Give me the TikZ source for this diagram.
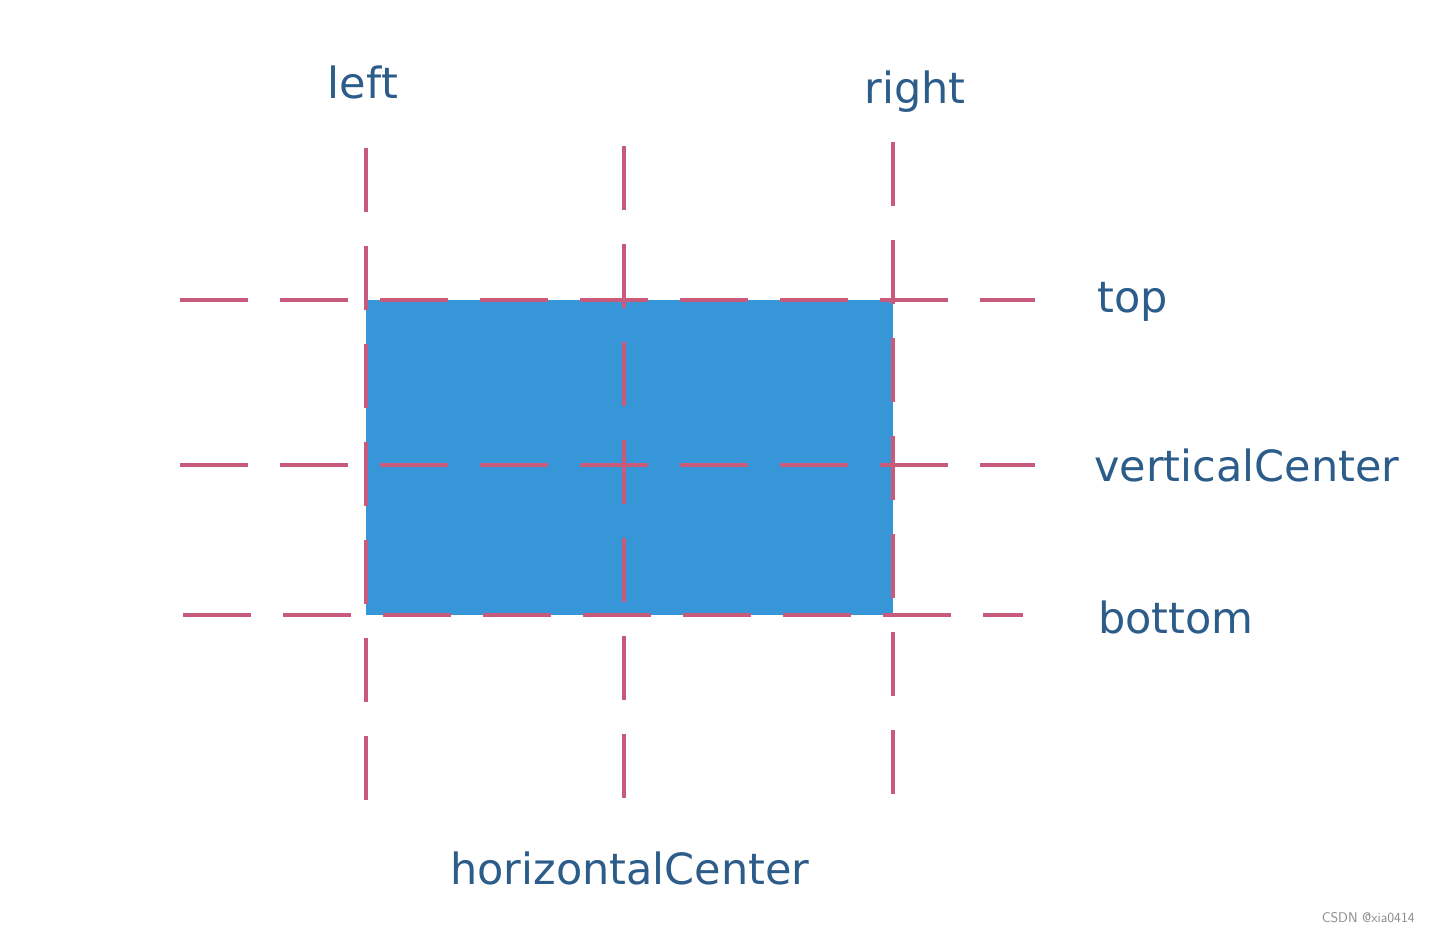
\documentclass[tikz,border=0pt]{standalone}
\usepackage{fontspec}
\setmainfont{DejaVu Sans}[Ligatures=NoCommon]
\definecolor{boxblue}{HTML}{3796D8}
\definecolor{guide}{HTML}{C85A7C}
\definecolor{labelblue}{HTML}{2C5C8A}
\definecolor{wmgrey}{HTML}{8A8A8A}
\begin{document}
\begin{tikzpicture}[x=1pt,y=-1pt,
  vguide/.style={draw=guide,line width=4pt,dash pattern=on 64pt off 34pt},
  hguide/.style={draw=guide,line width=4pt,dash pattern=on 68pt off 32pt},
  lbl/.style={text=labelblue,font=\fontsize{43}{50}\selectfont,inner sep=0pt}]
\useasboundingbox[fill=white] (0,0) rectangle (1430,933);
% box
\fill[boxblue] (366,300) rectangle (893,615);
% horizontal guides
\coordinate (t1) at (180,300); \coordinate (t2) at (1035,300);
\coordinate (m1) at (180,465); \coordinate (m2) at (1035,465);
\coordinate (b1) at (183,615); \coordinate (b2) at (1023,615);
\draw[hguide] (t1) -- (t2);
\draw[hguide] (m1) -- (m2);
\draw[hguide] (b1) -- (b2);
% vertical guides
\coordinate (l1) at (366,148); \coordinate (l2) at (366,805);
\coordinate (c1) at (624,146); \coordinate (c2) at (624,807);
\coordinate (r1) at (893,142); \coordinate (r2) at (893,805);
\draw[vguide] (l1) -- (l2);
\draw[vguide] (c1) -- (c2);
\draw[vguide] (r1) -- (r2);
% labels
\node[lbl] (left) at (363,82) {lef\kern0pt t};
\node[lbl] (right) at (915,92) {right};
\node[lbl,anchor=west] (top) at (1097,302) {top};
\node[lbl,anchor=west] (vc) at (1094,465) {verticalCenter};
\node[lbl,anchor=west] (bottom) at (1098,617) {bottom};
\node[lbl] (hc) at (630,868) {horizontalCenter};
\node[text=wmgrey,font=\fontsize{14}{16}\selectfont\sffamily,anchor=east,inner sep=0pt] (wm) at (1415,918) {CSDN @xia0414};
\end{tikzpicture}
\end{document}
